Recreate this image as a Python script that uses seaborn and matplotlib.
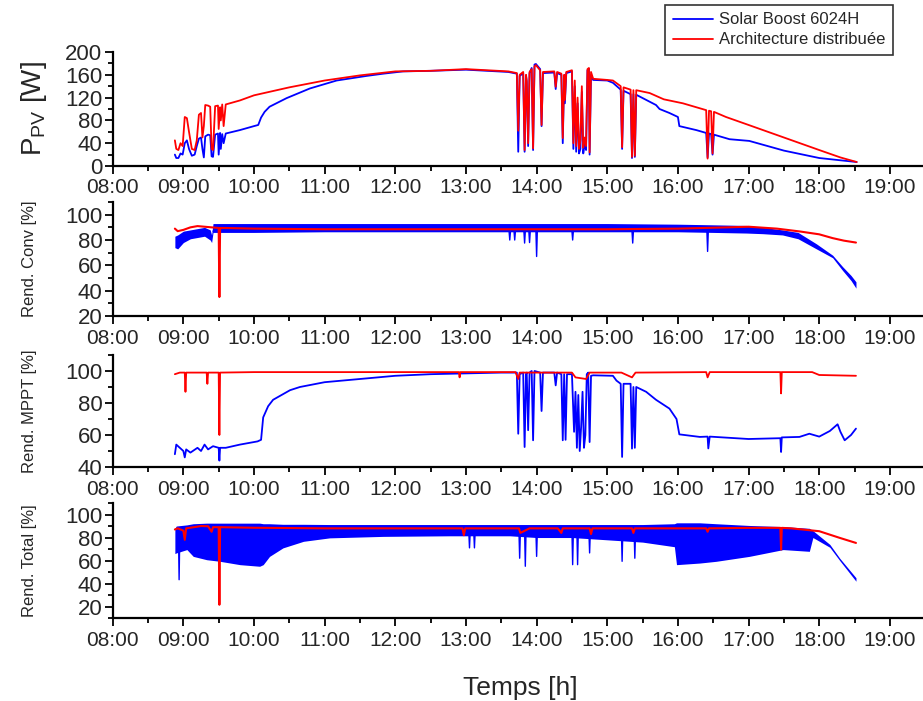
import numpy as np
import pandas as pd
import matplotlib
matplotlib.use("Agg")
import matplotlib.pyplot as plt
import seaborn as sns
from matplotlib.ticker import MultipleLocator, FixedLocator, FixedFormatter

# ---------------- data (time in decimal hours) ----------------
hour_ticks = list(range(8, 20))
hour_labels = ["%02d:00" % h for h in hour_ticks]

# Panel 1: P_PV [W]
t_pv_red = [8.88, 8.90, 8.93, 8.96, 8.99, 9.02, 9.05, 9.08, 9.12, 9.16, 9.19, 9.22, 9.25, 9.27,
            9.29, 9.31, 9.35, 9.38, 9.40, 9.42, 9.45, 9.49, 9.50, 9.52, 9.53, 9.55, 9.57, 9.60,
            9.80, 10.0, 10.5, 11.0, 11.5, 12.0, 12.5, 13.0, 13.3, 13.6, 13.72, 13.74, 13.76,
            13.81, 13.83, 13.85, 13.86, 13.88, 13.90, 13.93, 13.95, 13.97, 13.99, 14.05, 14.07,
            14.09, 14.25, 14.27, 14.29, 14.35, 14.37, 14.39, 14.40, 14.42, 14.50, 14.52, 14.54,
            14.56, 14.58, 14.60, 14.62, 14.64, 14.66, 14.68, 14.70, 14.72, 14.74, 14.75, 14.77,
            14.80, 15.0, 15.08, 15.19, 15.21, 15.23, 15.33, 15.35, 15.37, 15.39, 15.41, 15.6,
            15.8, 16.07, 16.40, 16.42, 16.44, 16.47, 16.49, 16.51, 16.68, 17.0, 17.5, 18.0,
            18.3, 18.53]
pv_red = [45, 30, 28, 40, 35, 86, 84, 60, 30, 28, 45, 90, 93, 50,
          70, 107, 106, 104, 30, 28, 105, 106, 65, 103, 80, 108, 70, 108,
          115, 124, 138, 150, 159, 166, 167, 170, 168, 166, 163, 62, 160,
          165, 28, 160, 150, 40, 165, 170, 31, 175, 177, 168, 72,
          165, 166, 139, 165, 162, 49, 160, 116, 165, 168, 40, 150,
          35, 120, 30, 45, 140, 32, 50, 35, 170, 172, 24, 165,
          153, 151, 150, 140, 33, 138, 134, 16, 133, 18, 133, 128,
          117, 110, 98, 13, 97, 96, 22, 95, 86, 72, 50, 28,
          15, 7]

t_pv_blue = [8.88, 8.90, 8.93, 8.96, 8.99, 9.02, 9.05, 9.08, 9.12, 9.16, 9.19, 9.22, 9.25, 9.27,
             9.29, 9.31, 9.35, 9.38, 9.40, 9.42, 9.45, 9.49, 9.50, 9.52, 9.53, 9.55, 9.57, 9.60,
             9.80, 10.0, 10.06, 10.10, 10.15, 10.22, 10.46, 10.79, 11.17, 11.59, 11.83, 12.11,
             12.5, 13.0, 13.3, 13.6, 13.72, 13.74, 13.76, 13.81, 13.83, 13.85, 13.86, 13.88,
             13.90, 13.93, 13.95, 13.97, 13.99, 14.05, 14.07, 14.09, 14.25, 14.27, 14.29, 14.35,
             14.37, 14.39, 14.40, 14.42, 14.50, 14.52, 14.54, 14.56, 14.58, 14.60, 14.62, 14.64,
             14.66, 14.68, 14.70, 14.72, 14.74, 14.75, 14.77, 14.80, 15.0, 15.08, 15.19, 15.21,
             15.23, 15.33, 15.35, 15.37, 15.39, 15.41, 15.55, 15.69, 15.74, 15.88, 16.0, 16.02,
             16.26, 16.40, 16.42, 16.44, 16.47, 16.49, 16.51, 16.73, 17.01, 17.5, 18.0, 18.3,
             18.53]
pv_blue = [20, 14, 14, 22, 20, 40, 45, 30, 18, 20, 35, 48, 50, 30,
           15, 52, 55, 54, 17, 16, 55, 57, 20, 58, 30, 56, 40, 57,
           63, 70, 72, 85, 95, 104, 119, 136, 150, 158, 162, 166,
           167, 169, 167, 165, 162, 25, 158, 163, 25, 158, 148, 35,
           163, 172, 28, 178, 179, 170, 70, 163, 164, 135, 163, 160,
           40, 158, 110, 163, 166, 30, 140, 25, 110, 22, 30, 130,
           22, 40, 28, 168, 170, 20, 160, 151, 150, 146, 134, 30,
           132, 126, 14, 126, 16, 125, 116, 107, 100, 93, 86, 70,
           63, 58, 15, 57, 56, 20, 55, 47, 44, 27, 14, 10,
           7]

# Panel 2: Rend. Conv [%]
t_conv_red = [8.88, 8.92, 9.0, 9.1, 9.2, 9.3, 9.4, 9.50, 9.51, 9.52, 9.6, 10.0, 11.0, 12.0,
              13.0, 14.0, 15.0, 16.0, 16.7, 17.0, 17.4, 17.72, 18.0, 18.19, 18.35, 18.52]
conv_red = [89, 87, 88, 90, 91, 90.5, 90, 89.5, 35, 89.5, 89.5, 89, 88.5, 88.5,
            88.5, 88.5, 88.5, 89, 90, 90.5, 89, 86.8, 84.5, 81.5, 79.5, 78]

t_conv_band = [8.88, 8.92, 9.0, 9.1, 9.2, 9.3, 9.38, 9.40, 9.42, 10.0, 11.0, 12.0, 13.0, 14.0,
               15.0, 16.0, 16.5, 16.97, 17.2, 17.48, 17.7, 17.96, 18.19, 18.33, 18.45, 18.52]
conv_blue_hi = [83, 84, 87, 88, 89, 90, 88, 84, 93, 93, 93, 93, 93, 93,
                93, 92.5, 92, 91.5, 90, 88, 86, 77, 68, 59, 52, 47]
conv_blue_lo = [74, 73, 78, 81, 82, 83, 80, 78, 86, 86, 86.5, 86.5, 86.5, 86.5,
                86.5, 86.5, 86, 85.5, 85, 84, 81, 73, 66, 56, 48, 42]
t_conv_spk = [9.42, 13.61, 13.62, 13.63, 13.68, 13.69, 13.70, 13.82, 13.83, 13.84, 13.89, 13.90,
              13.91, 13.99, 14.0, 14.01, 14.50, 14.51, 14.52, 15.35, 15.36, 15.37, 16.41, 16.42,
              16.43, 17.0]
conv_spk = [87, 87, 80, 87, 87, 80, 87, 87, 77.6, 87, 87, 78,
            87, 87, 67, 87, 87, 80, 87, 87, 77.6, 87, 87, 71,
            87, 87]

# Panel 3: Rend. MPPT [%]
t_mppt_red = [8.88, 8.95, 9.02, 9.03, 9.04, 9.2, 9.33, 9.34, 9.35, 9.50, 9.51, 9.52, 10.0,
              12.9, 12.91, 12.92, 13.7, 13.74, 13.76, 14.5, 14.55, 14.7, 14.75, 15.2, 15.35,
              15.4, 16.4, 16.42, 16.45, 17.45, 17.46, 17.47, 17.9, 18.0, 18.52]
mppt_red = [98, 99, 99, 87, 99, 99, 99, 92, 99, 99, 60, 99, 99.3,
            99.3, 96, 99.3, 99.3, 95, 99, 99, 96, 95, 99, 99, 96,
            99, 99.3, 96, 99.3, 99.3, 86, 99.3, 99.3, 97.5, 97]

t_mppt_blue = [8.88, 8.90, 8.95, 9.00, 9.02, 9.04, 9.1, 9.2, 9.25, 9.3, 9.35, 9.42, 9.50, 9.51,
               9.52, 9.6, 9.8, 10.05, 10.10, 10.13, 10.2, 10.27, 10.51, 10.65, 11.0, 11.5, 12.0,
               12.5, 13.0, 13.5, 13.72, 13.74, 13.76, 13.81, 13.83, 13.85, 13.86, 13.88, 13.90,
               13.93, 13.95, 13.97, 14.05, 14.07, 14.09, 14.25, 14.27, 14.29, 14.35, 14.37, 14.39,
               14.41, 14.43, 14.50, 14.53, 14.55, 14.57, 14.59, 14.61, 14.63, 14.65, 14.67, 14.69,
               14.71, 14.73, 14.75, 14.77, 14.80, 15.08, 15.13, 15.19, 15.21, 15.23, 15.33, 15.35,
               15.37, 15.39, 15.41, 15.55, 15.69, 15.88, 15.98, 16.02, 16.31, 16.42, 16.43, 16.45,
               17.0, 17.45, 17.46, 17.47, 17.72, 17.86, 18.0, 18.15, 18.26, 18.30, 18.36, 18.45,
               18.52]
mppt_blue = [48, 54, 52, 50, 46, 51, 49, 52, 50, 54, 51, 53, 52, 44,
             52, 52, 54, 56, 57, 71, 78, 82, 88, 90, 93, 95, 97,
             98, 98.5, 99, 99, 60.8, 98, 99, 52.5, 98, 99, 63, 99,
             100, 56.7, 100, 99, 75, 99, 99, 91, 99, 98, 56.7, 98,
             57, 98, 98, 62, 87, 52, 85, 50, 65, 87, 52, 60,
             98, 99, 55.6, 97, 97.3, 97, 94, 92, 46.3, 92, 92, 51.5,
             90, 52, 90, 87, 82, 76.5, 70, 60.4, 58.8, 59, 51.6, 59,
             57.5, 58, 49.4, 58.5, 58.8, 60.8, 59, 62.5, 66.7, 62, 56.7, 60,
             64]

# Panel 4: Rend. Total [%]
t_tot_red = [8.88, 8.92, 9.0, 9.02, 9.04, 9.15, 9.25, 9.35, 9.40, 9.42, 9.50, 9.51, 9.52, 10.0,
             11.0, 12.0, 12.95, 12.97, 12.99, 13.75, 13.77, 13.9, 14.3, 14.35, 14.37, 14.75,
             14.77, 14.79, 15.35, 15.37, 15.39, 16.4, 16.42, 16.44, 17.0, 17.45, 17.46, 17.47,
             17.6, 18.0, 18.29, 18.52]
tot_red = [87, 88, 86, 78, 88, 89, 90, 89.8, 85, 89, 89, 21.5, 89, 88.5,
           88, 88, 88, 82, 88, 88, 84, 88, 88, 84, 88, 88,
           83, 88, 88, 84, 88, 88, 85, 88, 88.4, 88.4, 69.5, 88.4,
           88, 85.5, 79.7, 75.3]

t_tot_band = [8.88, 8.90, 9.05, 9.14, 9.33, 9.52, 9.80, 10.08, 10.13, 10.22, 10.41, 10.70, 11.07,
              11.83, 12.77, 13.62, 14.0, 14.5, 15.0, 15.5, 15.95, 15.98, 16.31, 16.54, 17.01,
              17.49, 17.86, 17.91, 18.15, 18.29, 18.52]
tot_blue_lo = [66, 66.6, 69.5, 63.6, 60.7, 59.3, 56.4, 55, 56.4, 63.6, 71, 76.7, 79.7,
               81, 81.5, 81.5, 80, 80, 78, 76, 72, 56.4, 57.8, 59.3, 63.6,
               69.5, 68, 80, 71.5, 60, 42]
tot_blue_hi = [88, 90, 91, 92, 92.5, 92.5, 92.5, 92.5, 92, 92, 91.5, 91.5, 91.3,
               91.3, 91.3, 91.3, 91.3, 91.3, 91.3, 91.3, 92, 92.8, 92.8, 92, 90.5,
               89.5, 88, 86, 74, 62, 45]
t_tot_spk = [8.93, 8.94, 8.95, 13.04, 13.05, 13.06, 13.11, 13.12, 13.13, 13.75, 13.76, 13.77,
             13.83, 13.84, 13.85, 13.99, 14.0, 14.01, 14.50, 14.51, 14.52, 14.57, 14.58, 14.59,
             14.74, 14.75, 14.76, 15.20, 15.21, 15.22, 15.38, 15.39, 15.40]
tot_spk = [85, 43.3, 85, 85, 71, 85, 85, 71, 85, 85, 62, 85,
           85, 55, 85, 85, 63.6, 85, 85, 56.4, 85, 85, 56.4, 85,
           85, 66.6, 85, 85, 59.3, 85, 85, 62, 85]

series_names = ["Solar Boost 6024H", "Architecture distribuée"]
ylabels = ["P$_{\\mathregular{PV}}$ [W]", "Rend. Conv [%]", "Rend. MPPT [%]", "Rend. Total [%]"]

# ---------------- style ----------------
sns.set_style("ticks")
plt.rcParams["font.family"] = ["Liberation Sans", "DejaVu Sans"]
plt.rcParams["mathtext.fontset"] = "custom"
plt.rcParams["mathtext.rm"] = "Liberation Sans"
plt.rcParams["mathtext.default"] = "regular"

BLUE = "#0000ff"
RED = "#ff0000"

fig = plt.figure(figsize=(9.23, 7.01), dpi=100)
L, W = 0.1221, 0.878
rects = [(L, 0.7632, W, 0.1626), (L, 0.5492, W, 0.1626),
         (L, 0.3338, W, 0.1598), (L, 0.1184, W, 0.1640)]
axes = [fig.add_axes(r) for r in rects]

ylims = [(0, 200), (20, 110), (40, 110), (10, 110)]
ymajor = [[0, 40, 80, 120, 160, 200], [20, 40, 60, 80, 100], [40, 60, 80, 100], [20, 40, 60, 80, 100]]
yminor = [20, 10, 10, 10]


def line(ax, t, v, color, label=None, lw=1.0):
    sns.lineplot(x=t, y=v, ax=ax, color=color, lw=lw, estimator=None, sort=False,
                 label=label, legend=False)


# panel 1
ax = axes[0]
line(ax, t_pv_blue, pv_blue, BLUE, series_names[0], 1.3)
line(ax, t_pv_red, pv_red, RED, series_names[1], 1.3)

# panel 2
ax = axes[1]
ax.fill_between(t_conv_band, conv_blue_lo, conv_blue_hi, color=BLUE, lw=0)
line(ax, t_conv_spk, conv_spk, BLUE)
line(ax, t_conv_red, conv_red, RED, lw=1.5)

# panel 3
ax = axes[2]
line(ax, t_mppt_blue, mppt_blue, BLUE, lw=1.3)
line(ax, t_mppt_red, mppt_red, RED, lw=1.3)

# panel 4
ax = axes[3]
ax.fill_between(t_tot_band, tot_blue_lo, tot_blue_hi, color=BLUE, lw=0)
line(ax, t_tot_spk, tot_spk, BLUE)
line(ax, t_tot_red, tot_red, RED, lw=1.5)

for i, ax in enumerate(axes):
    ax.set_xlim(8, 19.47)
    ax.set_ylim(*ylims[i])
    ax.xaxis.set_major_locator(FixedLocator(hour_ticks))
    ax.xaxis.set_major_formatter(FixedFormatter(hour_labels))
    ax.xaxis.set_minor_locator(MultipleLocator(0.5))
    ax.yaxis.set_major_locator(FixedLocator(ymajor[i]))
    ax.yaxis.set_minor_locator(MultipleLocator(yminor[i]))
    ax.tick_params(axis="both", which="major", direction="out", length=6, width=1.3,
                   labelsize=15, pad=3, color="black")
    ax.tick_params(axis="both", which="minor", direction="out", length=3.5, width=1.3,
                   color="black")
    ax.tick_params(axis="y", which="major", pad=1.5, labelsize=16)
    for s in ["top", "right"]:
        ax.spines[s].set_visible(False)
    for s in ["left", "bottom"]:
        ax.spines[s].set_linewidth(1.6)
        ax.spines[s].set_color("black")
    ax.set_xlabel("")
    ax.set_facecolor("white")
    if i == 0:
        ax.set_ylabel(ylabels[i], fontsize=20)
        ax.yaxis.set_label_coords(-0.079, 0.5)
    else:
        ax.set_ylabel(ylabels[i], fontsize=12)
        ax.yaxis.set_label_coords(-0.093, 0.5)

fig.text(520 / 923, 1 - 688 / 701, "Temps [h]", ha="center", va="center", fontsize=19)

handles, labels = axes[0].get_legend_handles_labels()
leg = fig.legend(handles, labels, loc="upper left", bbox_to_anchor=(0.7205, 0.993),
                 frameon=True, fancybox=False, edgecolor="black", fontsize=12,
                 handlelength=2.4, handletextpad=0.4, borderpad=0.45, labelspacing=0.3,
                 borderaxespad=0)
leg.get_frame().set_linewidth(1.2)

fig.savefig("out.png", dpi=100, facecolor="white")
